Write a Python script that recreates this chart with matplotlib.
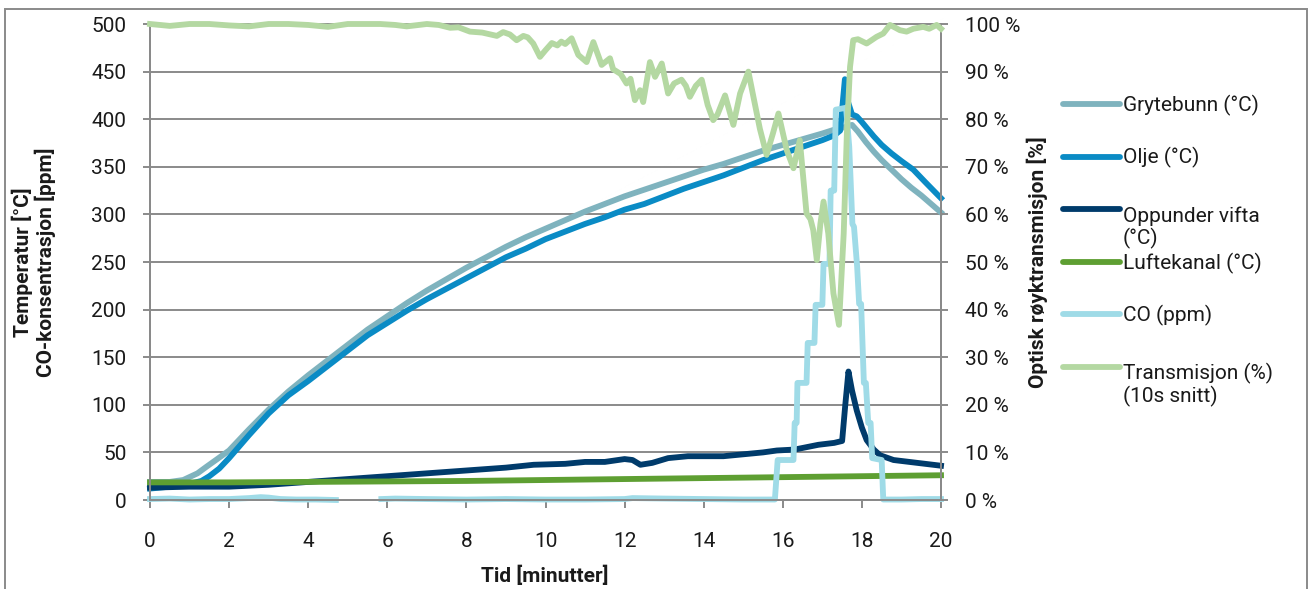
import numpy as np
import matplotlib
matplotlib.use("Agg")
import matplotlib.pyplot as plt
from matplotlib.lines import Line2D
from matplotlib.patches import Rectangle

plt.rcParams['font.family'] = ['Roboto', 'DejaVu Sans']

# ---------------------------------------------------------------- data
# Grytebunn (°C)
t_gryte = [0, 0.5, 0.84, 1.2, 1.43, 1.7, 2.0, 2.5, 3.0, 3.5, 4.0, 4.5, 5.0, 5.5, 6.0,
           6.5, 7.0, 7.5, 8.0, 8.5, 9.0, 9.5, 10.0, 10.5, 11.0, 11.5, 12.0, 12.5, 13.0,
           13.5, 14.0, 14.5, 15.0, 15.5, 16.0, 16.5, 17.0, 17.3, 17.6, 17.75, 17.9, 18.1,
           18.3, 18.5, 18.75, 19.0, 19.25, 19.5, 19.75, 20.0]
v_gryte = [19, 19, 21, 28, 35, 43, 52, 74, 95, 114, 131, 147, 163, 179, 193,
           207, 220, 232, 244, 255, 266, 276, 285, 294, 303, 311, 319, 326, 333,
           340, 347, 353, 360, 367, 373, 379, 385, 389, 392, 394, 387, 376,
           366, 357, 347, 337, 328, 320, 311, 302]

# Olje (°C)
t_olje = [0, 0.5, 1.0, 1.3, 1.5, 1.75, 2.0, 2.5, 3.0, 3.5, 4.0, 4.5, 5.0, 5.5, 6.0,
          6.5, 7.0, 7.5, 8.0, 8.5, 9.0, 9.5, 10.0, 10.5, 11.0, 11.5, 12.0, 12.5, 13.0,
          13.5, 14.0, 14.5, 15.0, 15.5, 16.0, 16.5, 17.0, 17.3, 17.45, 17.57, 17.65,
          17.75, 17.87, 18.0, 18.12, 18.3, 18.5, 18.75, 19.0, 19.3, 19.6, 20.0]
v_olje = [12, 14, 17, 20, 25, 33, 44, 68, 91, 110, 125, 141, 157, 173, 186,
          199, 211, 222, 233, 244, 255, 264, 274, 282, 290, 297, 305, 311, 319,
          327, 334, 341, 349, 357, 364, 371, 378, 383, 388, 442, 418,
          405, 403, 397, 391, 382, 373, 364, 356, 347, 334, 317]

# Oppunder vifta (°C)
t_vifta = [0, 1, 2, 3, 4, 5, 6, 7, 8, 9, 9.7, 10.5, 11.0, 11.5, 12.0, 12.2, 12.4,
           12.7, 13.1, 13.6, 14.5, 15.0, 15.5, 15.85, 16.3, 16.9, 17.3, 17.5, 17.58,
           17.66, 17.75, 17.87, 18.0, 18.12, 18.3, 18.46, 18.8, 19.2, 19.6, 20.0]
v_vifta = [13, 14, 14, 16, 19, 22, 25, 28, 31, 34, 37, 38, 40, 40, 43, 42, 37,
           39, 44, 46, 46, 48, 50, 52, 53, 58, 60, 62, 100,
           135, 115, 94, 76, 63, 53, 47, 42, 40, 38, 36]

# Luftekanal (°C)
t_luft = [0, 2, 4, 6, 8, 10, 12, 14, 16, 18, 20]
v_luft = [18.5, 18.5, 19, 19.5, 20, 21, 22, 23, 24, 25, 26]

# CO (ppm); None = no reading shown
t_co = [0, 0.5, 1, 1.5, 2, 2.5, 2.8, 3.0, 3.3, 3.7, 4.2, 4.7, 4.75, 5.85, 6.2, 7, 8,
        9, 10, 11, 12, 12.2, 13, 14, 15, 15.8, 15.87, 16.27, 16.3, 16.35, 16.37, 16.6,
        16.63, 16.8, 16.83, 17.0, 17.03, 17.18, 17.21, 17.3, 17.34, 17.6, 17.68, 17.76,
        17.8, 17.88, 17.93, 17.98, 18.05, 18.1, 18.16, 18.22, 18.26, 18.5, 18.54, 19,
        19.5, 20]
v_co = [1, 1.5, 0.5, 1, 1, 2, 3, 2.5, 1, 0.5, 0.5, 0, None, 1, 1.5, 1, 0.5,
        1, 0.5, 0.5, 1, 2, 1.5, 1, 0.5, 0.5, 42, 42, 81, 81, 123, 123,
        165, 165, 205, 205, 248, 248, 325, 325, 410, 412, 371, 290,
        287, 245, 206, 206, 123, 123, 81, 81, 44, 42, 0.5, 0.5,
        1, 1]

# Transmisjon (%) (10s snitt)
t_trans = [0, 0.5, 1.0, 1.5, 2.0, 2.5, 3.0, 3.5, 4.0, 4.5, 5.0, 5.5, 5.82, 6.2, 6.49,
           7.0, 7.3, 7.59, 7.8, 8.09, 8.4, 8.77, 8.93, 9.1, 9.27, 9.44, 9.55, 9.69,
           9.86, 10.0, 10.16, 10.3, 10.4, 10.5, 10.66, 10.83, 11.04, 11.21, 11.42,
           11.63, 11.71, 11.9, 12.05, 12.15, 12.26, 12.39, 12.47, 12.64, 12.77, 12.94,
           13.1, 13.25, 13.44, 13.55, 13.65, 13.8, 13.95, 14.1, 14.24, 14.35, 14.54,
           14.75, 14.92, 15.13, 15.25, 15.42, 15.59, 15.75, 15.89, 16.1, 16.27, 16.43,
           16.6, 16.7, 16.77, 16.86, 16.95, 17.03, 17.15, 17.28, 17.42, 17.54, 17.62,
           17.7, 17.78, 17.9, 18.12, 18.37, 18.54, 18.71, 18.85, 18.96, 19.13, 19.3,
           19.55, 19.7, 19.89, 20.0]
v_trans = [100, 99.6, 100, 100, 99.7, 99.5, 100, 100, 99.8, 99.4, 100, 100, 100, 99.8, 99.5,
           100, 99.8, 99.2, 99.3, 98.4, 98.2, 97.5, 98.3, 97.8, 96.6, 97.5, 97.2, 95.9,
           93.1, 94.5, 96.0, 95.5, 96.3, 95.8, 97.0, 93.5, 92.0, 96.2, 91.4,
           92.8, 90.5, 89.5, 87.5, 88.5, 84.0, 86.1, 83.6, 92.0, 88.9, 91.7,
           85.4, 87.5, 88.3, 87.0, 84.7, 87.0, 88.3, 83.0, 79.8, 81.0, 85.0,
           78.8, 85.4, 90.0, 85.0, 78.0, 72.5, 77.0, 81.2, 73.5, 69.7, 75.6,
           60.2, 59.0, 56.7, 50.4, 58.0, 62.7, 56.0, 43.4, 36.8, 56.0, 77.0,
           91.0, 96.6, 96.8, 95.9, 97.3, 98.0, 99.8, 99.2, 98.7, 98.4, 99.0,
           99.4, 99.0, 99.8, 99.0]

legend_labels = ["Grytebunn (°C)", "Olje (°C)", "Oppunder vifta\n(°C)",
                 "Luftekanal (°C)", "CO (ppm)", "Transmisjon (%)\n(10s snitt)"]
x_ticks = list(range(0, 21, 2))
y_ticks = list(range(0, 501, 50))
y2_ticks = list(range(0, 101, 10))

colors = ["#7FB3BE", "#0A8BC5", "#003B6B", "#5E9F32", "#9FDBE7", "#B4D8A2"]
grid_col = "#8A8A8A"
text_col = "#1A1A1A"

# ---------------------------------------------------------------- figure
W, H = 1311, 589
fig = plt.figure(figsize=(W / 100, H / 100), dpi=100)
fig.patch.set_facecolor("white")


def fx(px):
    return px / W


def fy(py):
    return 1 - py / H


ax = fig.add_axes([fx(150), fy(500), (941 - 150) / W, (500 - 24) / H])
ax2 = ax.twinx()

lw = 4.2
series = [(t_gryte, v_gryte), (t_olje, v_olje), (t_vifta, v_vifta),
          (t_luft, v_luft), (t_co, v_co)]
for (tt, vv), c in zip(series, colors[:5]):
    vv = np.array([np.nan if v is None else v for v in vv], dtype=float)
    ax.plot(tt, vv, color=c, lw=lw, solid_joinstyle="round", clip_on=False, zorder=3)

ax2.plot(t_trans, v_trans, color=colors[5], lw=lw, solid_joinstyle="round",
         clip_on=False, zorder=3)

ax.set_xlim(0, 20)
ax.set_ylim(0, 500)
ax2.set_ylim(0, 100)
ax.set_xticks(x_ticks)
ax.set_yticks(y_ticks)
ax2.set_yticks(y2_ticks)
ax2.set_yticklabels([f"{v} %" for v in y2_ticks])

ax.yaxis.grid(True, color=grid_col, lw=1.4)
for gl in ax.get_ygridlines():
    gl.set_clip_on(False)
ax.set_axisbelow(True)

for a in (ax, ax2):
    a.spines["top"].set_visible(False)
    for s in ("left", "right", "bottom"):
        a.spines[s].set_color(grid_col)
        a.spines[s].set_linewidth(1.4)
    a.patch.set_visible(False)

ax.tick_params(axis="y", direction="out", length=5, width=1.4, color=grid_col,
               pad=12, labelsize=15, labelcolor=text_col)
ax.tick_params(axis="x", direction="out", length=6, width=1.4, color=grid_col,
               pad=17, labelsize=15, labelcolor=text_col)
ax2.tick_params(axis="y", direction="out", length=5, width=1.4, color=grid_col,
                pad=12, labelsize=15, labelcolor=text_col)

# axis titles
fig.text(fx(22), fy(262), "Temperatur [°C]", rotation=90, ha="center", va="center",
         fontsize=15, fontweight="bold", color=text_col)
fig.text(fx(45), fy(262), "CO-konsentrasjon [ppm]", rotation=90, ha="center",
         va="center", fontsize=15, fontweight="bold", color=text_col)
fig.text(fx(1037), fy(262), "Optisk røyktransmisjon [%]", rotation=90, ha="center",
         va="center", fontsize=15, fontweight="bold", color=text_col)
fig.text(fx(545), fy(576), "Tid [minutter]", ha="center", va="center",
         fontsize=15, fontweight="bold", color=text_col)

# legend
handle_y = [104, 157, 209, 262, 314, 367]
text_y = [105, 157, 228, 263, 315, 385]
for lab, c, hy, ty in zip(legend_labels, colors, handle_y, text_y):
    fig.add_artist(Line2D([fx(1063), fx(1120)], [fy(hy), fy(hy)], color=c,
                          lw=lw, solid_capstyle="round", transform=fig.transFigure))
    fig.text(fx(1123), fy(ty), lab, ha="left", va="center", fontsize=15,
             color=text_col, linespacing=1.1)

# outer frame
fig.add_artist(Rectangle((fx(5), fy(640)), (1307 - 5) / W, (640 - 9) / H,
                         transform=fig.transFigure, fill=False,
                         edgecolor=grid_col, lw=1.4, clip_on=False))

fig.savefig("out.png", dpi=100)
